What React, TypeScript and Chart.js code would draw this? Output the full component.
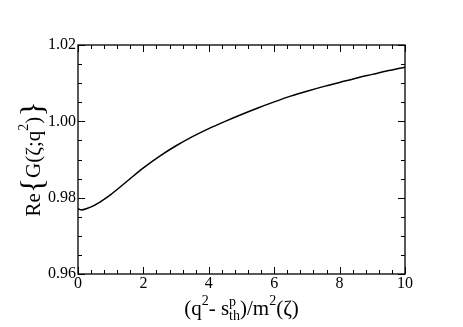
import React, { useEffect, useRef } from "react";
import { Chart, registerables } from "chart.js";

Chart.register(...registerables);

const xValues = [0, 0.1, 0.25, 0.5, 0.75, 1, 1.5, 2, 2.5, 3, 3.5, 4, 4.5, 5, 5.5, 6, 6.5, 7, 7.5, 8, 8.5, 9, 9.5, 10];
const yValues = [0.9771, 0.9768, 0.9771, 0.978, 0.9793, 0.9808, 0.9843, 0.9878, 0.9909, 0.9936, 0.996, 0.9981, 1.0, 1.0018, 1.0035, 1.0051, 1.0066, 1.0079, 1.0091, 1.0102, 1.0113, 1.0123, 1.0133, 1.0142];
const xTickStep = 2;
const xMinorStep = 0.4;
const yTickStep = 0.02;
const yMinorStep = 0.005;
const xRange = [0, 10];
const yRange = [0.96, 1.02];

const SERIF = "'Liberation Serif', 'DejaVu Serif', serif";

type Seg = { t: string; size: number; dy: number; sub?: string };

function drawSegs(ctx: CanvasRenderingContext2D, segs: Seg[], cx: number, baseY: number) {
  let total = 0;
  const widths: number[] = [];
  segs.forEach((s) => {
    ctx.font = `${s.size}px ${SERIF}`;
    let w = ctx.measureText(s.t).width;
    if (s.sub) {
      const w2 = ctx.measureText(s.sub).width;
      w = Math.max(w, w2);
    }
    widths.push(w);
    total += w;
  });
  let x = cx - total / 2;
  ctx.textBaseline = "alphabetic";
  ctx.textAlign = "left";
  segs.forEach((s, i) => {
    ctx.font = `${s.size}px ${SERIF}`;
    ctx.fillText(s.t, x, baseY + s.dy);
    if (s.sub) ctx.fillText(s.sub, x, baseY + 5);
    x += widths[i];
  });
}

const framePlugin = {
  id: "framePlugin",
  afterDraw(chart: any) {
    const { ctx, chartArea } = chart;
    const { left, right, top, bottom } = chartArea;
    const xs = chart.scales.x;
    const ys = chart.scales.y;
    ctx.save();
    ctx.strokeStyle = "#000";
    ctx.lineWidth = 1.3;
    ctx.strokeRect(left, top, right - left, bottom - top);
    ctx.lineWidth = 1;
    ctx.beginPath();
    const nX = Math.round((xRange[1] - xRange[0]) / xMinorStep);
    for (let i = 0; i <= nX; i++) {
      const v = xRange[0] + i * xMinorStep;
      const major = Math.abs(v / xTickStep - Math.round(v / xTickStep)) < 1e-6;
      const len = major ? 7 : 4;
      const px = Math.round(xs.getPixelForValue(v)) + 0.5;
      ctx.moveTo(px, bottom);
      ctx.lineTo(px, bottom - len);
      ctx.moveTo(px, top);
      ctx.lineTo(px, top + len);
    }
    const nY = Math.round((yRange[1] - yRange[0]) / yMinorStep);
    for (let i = 0; i <= nY; i++) {
      const v = yRange[0] + i * yMinorStep;
      const major = Math.abs((v - yRange[0]) / yTickStep - Math.round((v - yRange[0]) / yTickStep)) < 1e-6;
      const len = major ? 7 : 4;
      const py = Math.round(ys.getPixelForValue(v)) + 0.5;
      ctx.moveTo(left, py);
      ctx.lineTo(left + len, py);
      ctx.moveTo(right, py);
      ctx.lineTo(right - len, py);
    }
    ctx.stroke();

    ctx.fillStyle = "#000";
    // x title
    drawSegs(
      ctx,
      [
        { t: "(q", size: 21, dy: 0 },
        { t: "2", size: 14, dy: -10 },
        { t: "- s", size: 21, dy: 0 },
        { t: "p", size: 14, dy: -9, sub: "th" },
        { t: ")/m", size: 21, dy: 0 },
        { t: "2", size: 14, dy: -10 },
        { t: "(\u03b6)", size: 21, dy: 0 },
      ],
      (left + right) / 2,
      315
    );
    // y title
    ctx.save();
    ctx.translate(40, 159);
    ctx.rotate(-Math.PI / 2);
    drawSegs(
      ctx,
      [
        { t: "Re", size: 21, dy: 0 },
        { t: "{", size: 32, dy: 3 },
        { t: "G(\u03b6;q", size: 21, dy: 0 },
        { t: "2", size: 14, dy: -12 },
        { t: ")", size: 21, dy: 0 },
        { t: "}", size: 32, dy: 3 },
      ],
      0,
      0
    );
    ctx.restore();
    ctx.restore();
  },
};

export default function App() {
  const ref = useRef<HTMLCanvasElement>(null);
  useEffect(() => {
    if (!ref.current) return;
    const chart = new Chart(ref.current, {
      type: "line",
      data: {
        datasets: [
          {
            data: xValues.map((x, i) => ({ x, y: yValues[i] })),
            borderColor: "#000",
            borderWidth: 1.5,
            pointRadius: 0,
            tension: 0.3,
            fill: false,
          },
        ],
      },
      options: {
        animation: false,
        responsive: false,
        devicePixelRatio: 1,
        layout: { padding: { top: 45, right: 58, left: 0, bottom: 0 } },
        plugins: { legend: { display: false }, tooltip: { enabled: false } },
        scales: {
          x: {
            type: "linear",
            min: xRange[0],
            max: xRange[1],
            grid: { display: false, drawTicks: false },
            border: { display: false },
            ticks: {
              stepSize: xTickStep,
              padding: 0,
              color: "#000",
              font: { family: SERIF, size: 16 },
              maxRotation: 0,
            },
            afterFit: (s: any) => {
              s.height = 53;
            },
          },
          y: {
            type: "linear",
            min: yRange[0],
            max: yRange[1],
            grid: { display: false, drawTicks: false },
            border: { display: false },
            ticks: {
              stepSize: yTickStep,
              padding: 2,
              color: "#000",
              font: { family: SERIF, size: 16 },
              callback: (v: any) => Number(v).toFixed(2),
            },
            afterFit: (s: any) => {
              s.width = 78;
            },
          },
        },
      },
      plugins: [framePlugin],
    } as any);
    return () => chart.destroy();
  }, []);
  return (
    <div style={{ position: "fixed", left: 0, top: 0, width: 463, height: 327, background: "#fff" }}>
      <canvas ref={ref} width={463} height={327} />
    </div>
  );
}
